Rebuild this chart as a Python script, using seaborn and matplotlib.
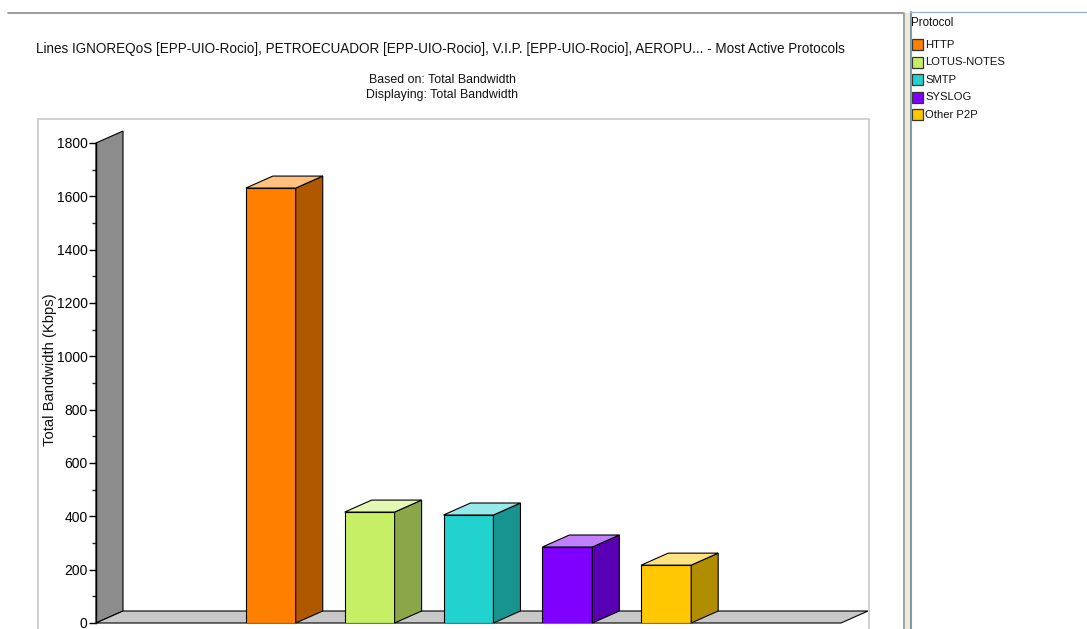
import matplotlib
matplotlib.use("Agg")
import matplotlib.pyplot as plt
import seaborn as sns
import pandas as pd
from matplotlib.patches import Polygon, Rectangle
from matplotlib.lines import Line2D

protocols = ["HTTP", "LOTUS-NOTES", "SMTP", "SYSLOG", "Other P2P"]
bandwidth = [1631, 416, 405, 285, 217]
front_colors = ["#ff8000", "#c6ef66", "#22d2ce", "#8000ff", "#ffc800"]
side_colors = ["#b05800", "#8aa648", "#189490", "#5a00b4", "#b08c00"]
top_colors = ["#ffc080", "#e4f8b4", "#94eae8", "#c080ff", "#ffe282"]
y_ticks = [0, 200, 400, 600, 800, 1000, 1200, 1400, 1600, 1800]

title = "Lines IGNOREQoS [EPP-UIO-Rocio], PETROECUADOR [EPP-UIO-Rocio], V.I.P. [EPP-UIO-Rocio], AEROPU... - Most Active Protocols"
subtitle = "Based on: Total Bandwidth\nDisplaying: Total Bandwidth"
ylabel = "Total Bandwidth (Kbps)"
legend_title = "Protocol"

sns.set_style("white")
plt.rcParams["font.family"] = ["Liberation Sans", "DejaVu Sans"]

W, H = 1087, 629
fig = plt.figure(figsize=(W / 100, H / 100), dpi=100)

def fx(px):
    return px / W

def fy(py):
    return 1 - py / H

# outer decorations
fig.add_artist(Line2D([fx(8), fx(903)], [fy(13), fy(13)], color="#8a8a8a", lw=1.2))
fig.add_artist(Rectangle((fx(38), fy(640)), fx(869 - 38), fy(119) - fy(640),
                         fill=False, edgecolor="#c8c8c8", lw=1.2))
fig.add_artist(Rectangle((fx(905), 0), fx(5), fy(13), color="#efe9d8", lw=0))
fig.add_artist(Line2D([fx(903.5), fx(903.5)], [fy(13), fy(629)], color="#909090", lw=1.2))
fig.add_artist(Line2D([fx(910.5), fx(910.5)], [fy(12), fy(629)], color="#8098a8", lw=1.5))
fig.add_artist(Line2D([fx(910), fx(1087)], [fy(12), fy(12)], color="#9cb4cc", lw=1))

fig.text(fx(440.5), fy(48.5), title, ha="center", va="center", fontsize=9.75, color="#111111")
fig.text(fx(442), fy(80), subtitle.split("\n")[0], ha="center", va="center", fontsize=8.9,
         color="#111111")
fig.text(fx(442), fy(95), subtitle.split("\n")[1], ha="center", va="center", fontsize=8.9,
         color="#111111")

ax = fig.add_axes([fx(96), fy(623), fx(841 - 96), fy(143) - fy(623)])
df = pd.DataFrame({"Protocol": protocols, "Bandwidth": bandwidth})
sns.barplot(data=df, x="Protocol", y="Bandwidth", hue="Protocol", palette=front_colors,
            order=protocols, hue_order=protocols, width=0.505, legend=False, saturation=1,
            edgecolor="#000000", linewidth=0.8, ax=ax, zorder=3)
ax.set_xlim(-1.768, len(protocols) - 1 + 1.768)
ax.set_ylim(0, 1800)
ax.set_yticks(y_ticks)
ax.set_yticks(range(100, 1800, 200), minor=True)
ax.tick_params(axis="y", which="major", length=5, width=1, direction="out",
               labelsize=10, pad=1, left=True, colors="#000000")
ax.tick_params(axis="y", which="minor", length=3, width=1, direction="out", left=True)
ax.tick_params(axis="x", bottom=False, labelbottom=False)
for s in ["top", "right", "bottom"]:
    ax.spines[s].set_visible(False)
ax.spines["left"].set_color("#000000")
ax.spines["left"].set_linewidth(1)
ax.spines["left"].set_zorder(6)
ax.set_xlabel("")
ax.set_ylabel("")
ax.patch.set_alpha(0)
fig.text(fx(50), fy(370), ylabel, rotation=90, ha="center", va="center",
         fontsize=10.6, color="#111111")

fig.canvas.draw()
inv = ax.transData.inverted()
o = inv.transform(ax.transData.transform((0, 0)) + [27, 12])
dx, dy = o[0], o[1]
x0, x1 = ax.get_xlim()

# back wall and floor
ax.add_patch(Polygon([(x0, 0), (x0 + dx, dy), (x0 + dx, 1800 + dy), (x0, 1800)],
                     closed=True, facecolor="#8c8c8c", edgecolor="#000000", lw=0.8,
                     zorder=1, clip_on=False))
ax.add_patch(Polygon([(x0, 0), (x1, 0), (x1 + dx, dy), (x0 + dx, dy)],
                     closed=True, facecolor="#c8c8c8", edgecolor="#000000", lw=0.8,
                     zorder=2, clip_on=False))

for i, p in enumerate(ax.patches[:len(protocols)]):
    bx, bw, bh = p.get_x(), p.get_width(), p.get_height()
    ax.add_patch(Polygon([(bx + bw, 0), (bx + bw + dx, dy), (bx + bw + dx, bh + dy), (bx + bw, bh)],
                         closed=True, facecolor=side_colors[i], edgecolor="#000000", lw=0.8,
                         zorder=3, clip_on=False))
    ax.add_patch(Polygon([(bx, bh), (bx + bw, bh), (bx + bw + dx, bh + dy), (bx + dx, bh + dy)],
                         closed=True, facecolor=top_colors[i], edgecolor="#000000", lw=0.8,
                         zorder=3, clip_on=False))

# legend panel
fig.text(fx(911), fy(22.5), legend_title, ha="left", va="center", fontsize=8.3, color="#111111")
for i, name in enumerate(protocols):
    yc = 44.5 + i * 17.6
    fig.add_artist(Rectangle((fx(912), fy(yc + 5.5)), fx(11), fy(yc - 5.5) - fy(yc + 5.5),
                             facecolor=front_colors[i], edgecolor="#333333", lw=0.9))
    fig.text(fx(925), fy(yc), name, ha="left", va="center", fontsize=8.1, color="#111111")

fig.savefig("out.png", dpi=100)
